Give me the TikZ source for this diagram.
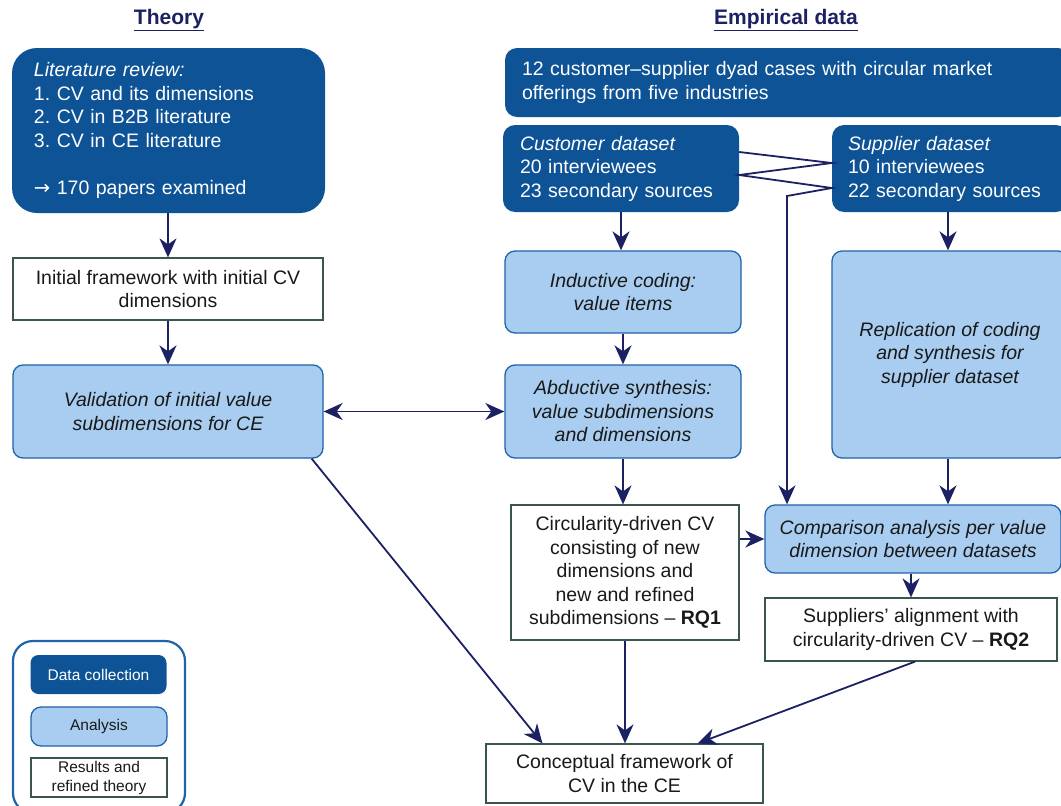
\documentclass[tikz,border=0pt]{standalone}
\usepackage{fontspec}
\setmainfont{Liberation Sans}
\newfontfamily\arrowfont{DejaVu Sans}
\usepackage{tikz}
\usetikzlibrary{positioning,calc,arrows.meta}
\definecolor{darkblue}{HTML}{0E5396}
\definecolor{lightblue}{HTML}{A9CDF0}
\definecolor{midblue}{HTML}{1F63A8}
\definecolor{navy}{HTML}{1B2163}
\definecolor{boxgrey}{HTML}{3A5550}
\newcommand{\boxfont}{\fontsize{19.5}{23.5}\selectfont}
\frenchspacing

\begin{document}
\begin{tikzpicture}[x=1pt, y=-1pt,
    datacoll/.style={rectangle, rounded corners=12pt, fill=darkblue, text=white, align=left, inner xsep=17pt, inner ysep=0pt, font=\boxfont},
    analysis/.style={rectangle, rounded corners=10pt, draw=midblue, line width=1.3pt, fill=lightblue, text=black!90, align=center, inner sep=0pt, font=\boxfont\itshape},
    result/.style={rectangle, draw=boxgrey, line width=1.2pt, fill=white, text=black!90, align=center, inner sep=0pt, font=\boxfont},
    title/.style={text=navy, font=\fontsize{21}{25}\selectfont\bfseries},
    tip/.tip={Stealth[length=19pt, width=17pt, inset=6pt]},
    flow/.style={navy, line width=1.8pt, -tip},
    legendbox/.style={minimum width=136pt, minimum height=39pt, font=\fontsize{15.5}{19}\selectfont\upshape}]
    \useasboundingbox (0,0) rectangle (1061,806);

    % Theory
    \node (theory) [title] at (169,20) {\underline{Theory}};
    \node (lit) [datacoll, rounded corners=25pt, inner xsep=22pt, text width=269pt, minimum height=165pt] at (168.5,130.5)
        {\textit{Literature review:}\\1. CV and its dimensions\\2. CV in B2B literature\\3. CV in CE literature\\[23.5pt]{\arrowfont →} 170 papers examined};
    \node (init) [result, minimum width=310pt, minimum height=62pt] at (168,289) {Initial framework with initial CV\\dimensions};
    \node (valid) [analysis, minimum width=310pt, minimum height=93pt] at (168,411.5) {Validation of initial value\\subdimensions for CE};
    \draw [flow] (lit.south -| init.north) -- (init.north);
    \draw [flow] (init.south) -- (valid.north);

    % Empirical data
    \node (empirical) [title] at (786,20) {\underline{Empirical data}};
    \node (cases) [datacoll, text width=531pt, minimum height=69pt] at (787.5,82.5)
        {12 customer–supplier dyad cases with circular market\\offerings from five industries};
    \node (cust) [datacoll, text width=202pt, minimum height=87pt] at (621,168.5)
        {\textit{Customer dataset}\\20 interviewees\\23 secondary sources};
    \node (supp) [datacoll, inner xsep=16pt, text width=204pt, minimum height=87pt] at (950,168.5)
        {\textit{Supplier dataset}\\10 interviewees\\22 secondary sources};
    \node (induct) [analysis, minimum width=236pt, minimum height=82pt] at (623,292) {Inductive coding:\\value items};
    \node (abduct) [analysis, minimum width=236pt, minimum height=93pt] at (623,411.5) {Abductive synthesis:\\value subdimensions\\and dimensions};
    \node (repl) [analysis, minimum width=236pt, minimum height=207pt] at (950,354.5) {Replication of coding\\and synthesis for\\supplier dataset};
    \node (circ) [result, minimum width=228pt, minimum height=135pt] at (625,572.5)
        {Circularity-driven CV\\consisting of new\\dimensions and\\new and refined\\subdimensions – \textbf{RQ1}};
    \node (comp) [analysis, minimum width=296pt, minimum height=68pt] at (913,539) {Comparison analysis per value\\dimension between datasets};
    \node (align) [result, minimum width=292pt, minimum height=63pt] at (911,629.5) {Suppliers’ alignment with\\circularity-driven CV – \textbf{RQ2}};
    \node (concept) [result, minimum width=277pt, minimum height=59pt] at (624.5,773.5) {Conceptual framework of\\CV in the CE};
    \coordinate (bend) at (787,196);

    \draw [flow] (cust.south) -- (cust.south |- induct.north);
    \draw [flow] (induct.south) -- (induct.south |- abduct.north);
    \draw [flow] (abduct.south) -- (abduct.south |- circ.north);
    \draw [flow] ([xshift=-2pt]supp.south) -- ([xshift=-2pt]repl.north);
    \draw [flow] ([xshift=-2pt]repl.south) -- ([xshift=-2pt]repl.south |- comp.north);
    \draw [flow] (comp.south -| align.north) -- (align.north);
    \draw [flow] (circ.east |- comp.west) -- (comp.west);
    \draw [flow, tip-tip] (valid.east) -- (abduct.west);
    \draw [flow] ([yshift=16.5pt]cust.east) -- ([yshift=5.5pt]supp.west)
        -- ([yshift=-6.5pt]cust.east) -- ([yshift=-19.5pt]supp.west) -- (bend) -- (bend |- comp.north);
    \draw [flow] ([xshift=-12pt]valid.south east) -- ([xshift=57pt]concept.north west);
    \draw [flow] (circ.south) -- (circ.south |- concept.north);
    \draw [flow] ([xshift=4pt]align.south) -- ([xshift=-66pt]concept.north east);

    % Legend
    \node (legend) [draw=midblue, line width=2.2pt, rounded corners=20pt, minimum width=172pt, minimum height=172pt] at (99,727) {};
    \node (leg1) [datacoll, rounded corners=8pt, legendbox, align=center, inner xsep=0pt] at (98.5,674.5) {Data collection};
    \node (leg2) [analysis, legendbox] at (99,726.5) {Analysis};
    \node (leg3) [result, legendbox, font=\fontsize{15.5}{19}\selectfont] at (99,777.5) {Results and\\refined theory};
\end{tikzpicture}
\end{document}
